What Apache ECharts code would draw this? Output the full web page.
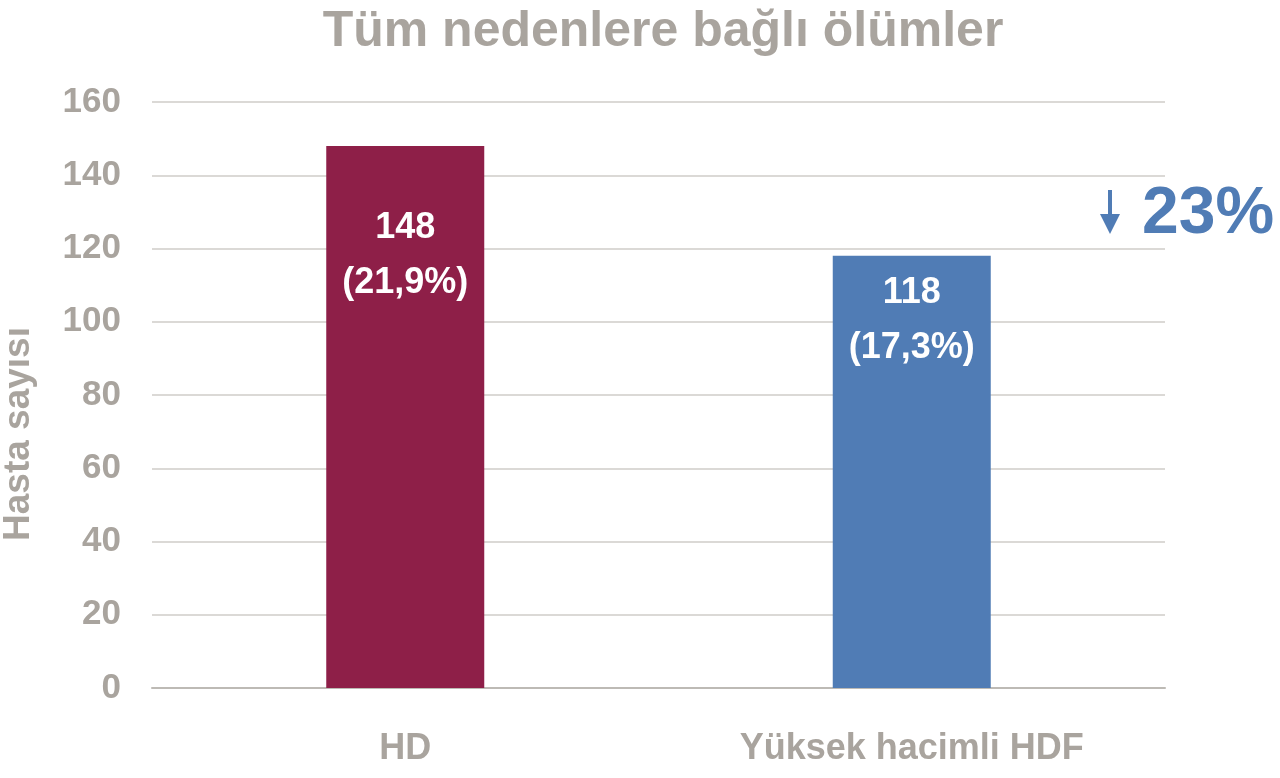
<!DOCTYPE html>
<html lang="tr">
<head>
  <meta charset="UTF-8">
  <title>Tüm nedenlere bağlı ölümler</title>
  <style>
    html, body { margin: 0; padding: 0; background: #fff; }
    #chart { width: 1280px; height: 778px; }
  </style>
</head>
<body>
  <div id="chart"></div>
  <script src="https://cdn.jsdelivr.net/npm/echarts@6/dist/echarts.min.js"></script>
  <script>
    // veriler
    const categories = ['HD', 'Yüksek hacimli HDF']
    const patients = [148, 118]
    const percents = ['21,9%', '17,3%']
    const reduction = '23%'

    const gray = '#a9a49e'
    const barColors = ['#8e1f48', '#507cb5']
    const labelDist = [55, 10] // label gap from bar top

    const chart = echarts.init(document.getElementById('chart'))

    chart.setOption({
      animation: false,
      title: {
        text: 'Tüm nedenlere bağlı ölümler',
        left: 658,
        top: 2,
        textAlign: 'center',
        textStyle: { color: gray, fontSize: 50, fontWeight: 'bold', fontFamily: 'Liberation Sans' }
      },
      grid: { left: 152, right: 115, top: 102, bottom: 90, outerBoundsMode: 'none', containLabel: false },
      xAxis: {
        type: 'category',
        data: categories,
        axisLine: { lineStyle: { color: '#bdbab5', width: 2 } },
        axisTick: { show: false },
        axisLabel: {
          color: gray, fontSize: 36, fontWeight: 'bold',
          fontFamily: 'Liberation Sans', margin: 43
        }
      },
      yAxis: {
        type: 'value',
        min: 0,
        max: 160,
        interval: 20,
        name: 'Hasta sayısı',
        nameLocation: 'middle',
        nameGap: 115,
        nameTextStyle: {
          color: gray, fontSize: 37, fontWeight: 'bold', fontFamily: 'Liberation Sans',
          padding: [0, 78, 0, 0]
        },
        axisLine: { show: false },
        axisTick: { show: false },
        splitLine: { lineStyle: { color: '#cfccc8', width: 1.5 } },
        axisLabel: {
          color: gray, fontSize: 35, fontWeight: 'bold',
          fontFamily: 'Liberation Sans', margin: 31
        }
      },
      series: [{
        type: 'bar',
        barWidth: 158,
        data: patients.map((v, i) => ({
          value: v,
          itemStyle: { color: barColors[i] },
          label: { distance: labelDist[i] }
        })),
        label: {
          show: true,
          position: 'insideTop',
          color: '#fff',
          fontSize: 36,
          fontWeight: 'bold',
          fontFamily: 'Liberation Sans',
          lineHeight: 55,
          formatter: p => p.value + '\n(' + percents[p.dataIndex] + ')'
        }
      }],
      graphic: [
        {
          type: 'line',
          shape: { x1: 1110, y1: 190, x2: 1110, y2: 218 },
          style: { stroke: barColors[1], lineWidth: 4 }
        },
        {
          type: 'polygon',
          shape: { points: [[1100, 214], [1120, 214], [1110, 234]] },
          style: { fill: barColors[1] }
        },
        {
          type: 'text',
          left: 1142,
          top: 182,
          style: {
            text: reduction,
            fill: barColors[1],
            font: 'bold 66px "Liberation Sans"'
          }
        }
      ]
    })
  </script>
</body>
</html>
